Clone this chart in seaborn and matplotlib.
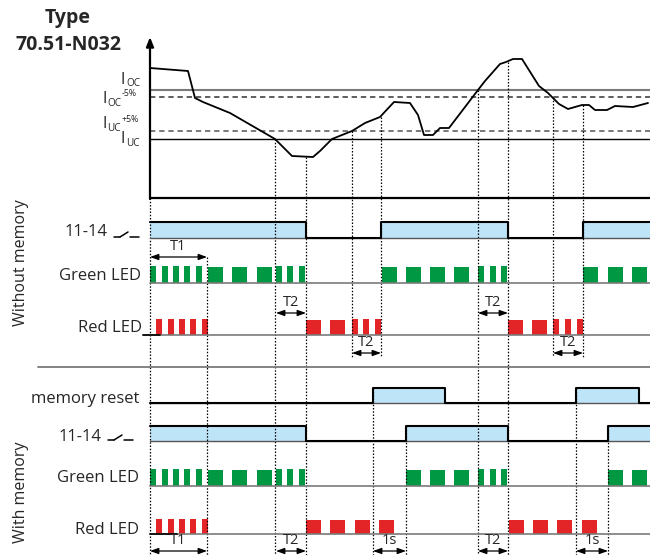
import matplotlib
matplotlib.use("Agg")
import matplotlib.pyplot as plt
import seaborn as sns
import numpy as np
import pandas as pd

sns.set_style("white")
plt.rcParams['font.family'] = ['Open Sans', 'DejaVu Sans']

# ---------------- data ----------------
# measured current curve (time, level) - schematic units
curve_t = [150, 188, 195, 203, 230, 275, 292, 313, 320, 332, 352, 365, 380, 394, 410, 418,
           424, 433, 440, 449, 478, 485, 500, 506, 513, 522, 539, 548, 559, 568, 582, 589,
           595, 607, 615, 633, 648]
curve_i = [68, 71, 98, 102, 113, 139, 156, 157, 151, 139, 131, 123, 117, 102, 103, 115,
           135, 135, 128, 128, 90, 81, 64, 62, 59, 59, 86, 93, 104, 109, 105, 105,
           110, 110, 106, 107, 103]
level_names = ["OC", "OC", "UC", "UC"]
level_marks = ["", "-5%", "+5%", ""]
level_vals = [90, 97, 131, 139]

# relay 11-14 ON intervals
relay_nomem_on = [(150, 306), (381, 508), (583, 650)]
relay_mem_on = [(150, 306), (406, 508), (608, 650)]
reset_on = [(373, 445), (576, 639)]

# LED blink bars: start times (fast = narrow, slow = wide)
green_nomem_fast = [150, 162, 173, 184, 196, 276, 287, 299, 478, 490, 501]
green_nomem_slow = [208, 232, 257, 382, 406, 430, 454, 583, 608, 632]
red_nomem_fast = [156, 168, 179, 190, 202, 352, 363, 375, 553, 565, 577]
red_nomem_slow = [306, 330, 508, 532]
green_mem_fast = [150, 162, 173, 184, 196, 276, 287, 299, 478, 490, 501]
green_mem_slow = [208, 232, 257, 406, 430, 454, 608, 632]
red_mem_fast = [156, 168, 179, 190, 202]
red_mem_slow = [306, 330, 355, 379, 509, 533, 557, 582]

# timing markers (start, end, label)
marks_nomem = [(150, 207, "T1"), (276, 306, "T2"), (352, 381, "T2"), (478, 508, "T2"), (553, 583, "T2")]
marks_mem = [(150, 207, "T1"), (276, 306, "T2"), (373, 406, "1s"), (478, 508, "T2"), (576, 608, "1s")]

# ---------------- layout (pixels) ----------------
GREEN = "#009842"
RED = "#e42528"
BLUE = "#bee4f8"
GRAY = "#7a7a7a"
X0, X1 = 150, 650

fig = plt.figure(figsize=(6.5, 5.55), dpi=100)
ax = fig.add_axes([0, 0, 1, 1])

# title
ax.text(68, 18, "Type", ha="center", va="center", fontsize=14, fontweight="bold")
ax.text(68, 45, "70.51-N032", ha="center", va="center", fontsize=14, fontweight="bold")

# current graph axes
ax.plot([X0, X1], [198, 198], color="black", lw=1.6, solid_capstyle="butt")
ax.annotate("", xy=(X0, 37), xytext=(X0, 199),
            arrowprops=dict(arrowstyle="-|>,head_length=0.55,head_width=0.22", lw=1.6,
                            color="black", shrinkA=0, shrinkB=0))
ax.plot([X0, X1], [level_vals[0]] * 2, color=GRAY, lw=1.5)
ax.plot([X0, X1], [level_vals[1]] * 2, color="#333333", lw=1.1, ls=(0, (3.5, 2.5)))
ax.plot([X0, X1], [level_vals[2]] * 2, color="#555555", lw=1.1, ls=(0, (3.5, 2.5)))
ax.plot([X0, X1], [level_vals[3]] * 2, color="black", lw=1.0)

# level labels: I with subscript / superscript
lab_pos = [(121, 83.5), (102, 103), (102, 128), (121, 143)]
for (x, yb), sub, sup in zip(lab_pos, level_names, level_marks):
    ax.text(x, yb, "I", ha="left", va="baseline", fontsize=11.5)
    ax.text(x + 5.5, yb + 3, sub, ha="left", va="baseline", fontsize=7.2)
    if sup:
        ax.text(x + 19.5, yb - 6.5, sup, ha="left", va="baseline", fontsize=6.3)

df = pd.DataFrame({"t": curve_t, "i": curve_i})
sns.lineplot(data=df, x="t", y="i", ax=ax, color="black", lw=1.3, sort=False, estimator=None)

# dotted event lines (x, top, bottom)
dot_lines = [(150, 198, 555), (207, 257, 555), (275, 139, 555), (306, 157, 555),
             (352, 131, 357), (381, 117, 357), (478, 90, 555), (508, 62, 555),
             (553, 97, 357), (583, 105, 357), (373, 388, 555), (406, 426, 555),
             (576, 388, 555), (608, 426, 555)]
for x, a, b in dot_lines:
    ax.plot([x, x], [a, b], color="black", lw=0.9, ls=(0, (1.2, 1.4)))


def relay_row(on, hi, lo):
    pts_x, pts_y = [], []
    cur = X0
    for a, b in on:
        if a > cur:
            pts_x += [cur, a]
            pts_y += [lo, lo]
        pts_x += [a, b]
        pts_y += [hi, hi]
        ax.fill_between([a, b], [lo, lo], [hi, hi], color=BLUE, lw=0)
        cur = b
    if cur < X1:
        pts_x += [cur, X1]
        pts_y += [lo, lo]
    ax.plot([X0, X1], [lo, lo], color="#555555", lw=1.0)
    ax.plot(pts_x, pts_y, color="black", lw=1.5)


def led_row(fast, slow, base, h, color, fast_w=6, slow_w=15):
    ax.bar(fast, [-h - 1.5] * len(fast), width=fast_w, bottom=base, align="edge", color=color, lw=0)
    ax.bar(slow, [-h] * len(slow), width=slow_w, bottom=base, align="edge", color=color, lw=0)


def switch(x, y):
    ax.plot([x, x + 6], [y, y], color="black", lw=1.1)
    ax.plot([x + 6, x + 14], [y, y - 5], color="black", lw=1.1)
    ax.plot([x + 16, x + 25], [y, y], color="black", lw=1.1)


def marker(a, b, y, label):
    ax.annotate("", xy=(a, y), xytext=(b, y),
                arrowprops=dict(arrowstyle="<|-|>,head_length=0.5,head_width=0.18", lw=0.9,
                                color="black", shrinkA=0, shrinkB=0))
    ax.text((a + b) / 2, y - 3, label, ha="center", va="bottom", fontsize=10.5)


fs = 12
# ---- without memory ----
ax.text(21, 263, "Without memory", rotation=90, ha="center", va="center", fontsize=11.5)
ax.text(108, 232, "11-14", ha="right", va="center", fontsize=fs)
switch(114, 237)
relay_row(relay_nomem_on, 222, 238)
ax.text(141, 276, "Green LED", ha="right", va="center", fontsize=fs)
ax.plot([X0, X1], [283, 283], color=GRAY, lw=1.2)
led_row(green_nomem_fast, green_nomem_slow, 283, 16, GREEN)
ax.text(142, 328, "Red LED", ha="right", va="center", fontsize=fs)
ax.plot([143, X1], [335, 335], color=GRAY, lw=1.2)
ax.plot([143, 160], [335, 335], color="black", lw=1.2)
led_row(red_nomem_fast, red_nomem_slow, 335, 15, RED)
marker(*marks_nomem[0][:2], 257, marks_nomem[0][2])
for i, (a, b, l) in enumerate(marks_nomem[1:]):
    marker(a, b, 313 if i % 2 == 0 else 353, l)

ax.plot([38, X1], [367, 367], color=GRAY, lw=1.3)

# ---- with memory ----
ax.text(21, 492, "With memory", rotation=90, ha="center", va="center", fontsize=11.5)
ax.text(139, 399, "memory reset", ha="right", va="center", fontsize=fs)
relay_row(reset_on, 388, 403)
ax.text(102, 437, "11-14", ha="right", va="center", fontsize=fs)
switch(108, 440)
relay_row(relay_mem_on, 426, 441)
ax.text(139, 478, "Green LED", ha="right", va="center", fontsize=fs)
ax.plot([X0, X1], [486, 486], color=GRAY, lw=1.2)
led_row(green_mem_fast, green_mem_slow, 486, 16, GREEN)
ax.text(139, 530, "Red LED", ha="right", va="center", fontsize=fs)
ax.plot([X0, X1], [534, 534], color=GRAY, lw=1.2)
ax.plot([X0, 177], [534, 534], color="black", lw=1.2)
led_row(red_mem_fast, red_mem_slow, 534, 14, RED)
for a, b, l in marks_mem:
    marker(a, b, 551, l)

ax.set_xlim(0, 650)
ax.set_ylim(555, 0)
ax.axis("off")
fig.savefig("out.png", dpi=100)
